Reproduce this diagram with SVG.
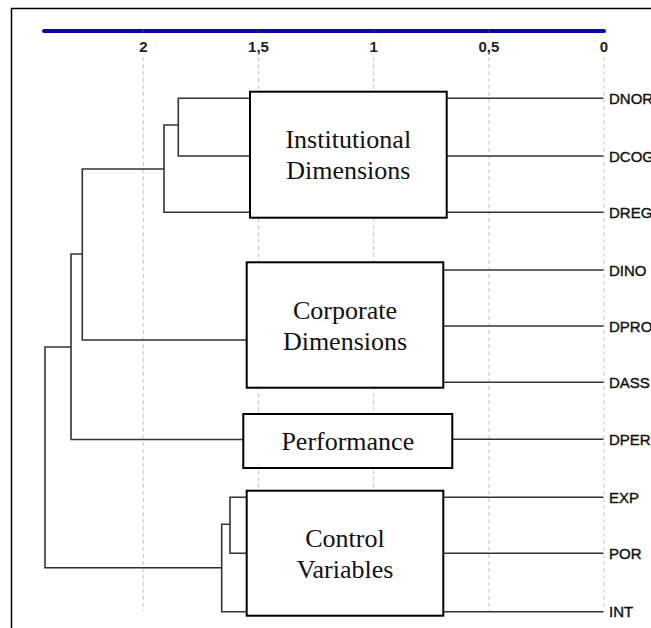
<svg xmlns="http://www.w3.org/2000/svg" width="651" height="628" viewBox="0 0 651 628">
<style>
.grid{stroke:#c8c8c8;stroke-width:1;stroke-dasharray:4,3;fill:none}
.tick{font-family:"Liberation Sans",Arial,sans-serif;font-size:15px;font-weight:bold;fill:#222;text-anchor:middle}
.leaf{font-family:"Liberation Sans",Arial,sans-serif;font-size:15px;fill:#111;stroke:#111;stroke-width:0.4}
.edge{stroke:#333;stroke-width:1.6;fill:none}
.box{fill:#fff;stroke:#000;stroke-width:2}
.lbl{font-family:"Liberation Serif","Times New Roman",serif;font-size:26px;fill:#111;text-anchor:middle}
</style>
<rect x="0" y="0" width="651" height="628" fill="#fff"/>
<rect x="11.5" y="8.5" width="700" height="700" fill="none" stroke="#000" stroke-width="1.5"/>
<g id="axis">
<line x1="44" y1="31" x2="604" y2="31" stroke="#0808b0" stroke-width="4" stroke-linecap="round"/>
<g stroke="#334" stroke-width="1.5">
<line x1="143.3" y1="29" x2="143.3" y2="33"/>
<line x1="258.5" y1="29" x2="258.5" y2="33"/>
<line x1="373.7" y1="29" x2="373.7" y2="33"/>
<line x1="488.9" y1="29" x2="488.9" y2="33"/>
</g>
<text class="tick" x="143.3" y="52">2</text>
<text class="tick" x="258.5" y="52">1,5</text>
<text class="tick" x="373.7" y="52">1</text>
<text class="tick" x="488.9" y="52">0,5</text>
<text class="tick" x="604" y="52">0</text>
<g class="grid">
<line x1="143.3" y1="57" x2="143.3" y2="611"/>
<line x1="258.5" y1="57" x2="258.5" y2="611"/>
<line x1="373.7" y1="57" x2="373.7" y2="611"/>
<line x1="488.9" y1="57" x2="488.9" y2="611"/>
<line x1="604" y1="57" x2="604" y2="611"/>
</g>
</g>
<g id="connectors" class="edge">
<path d="M446.7,98.3H603.5M446.7,156H603.5M446.7,212.3H603.5"/>
<path d="M443.3,270H603.5M443.3,326H603.5M443.3,382.3H603.5"/>
<path d="M452.3,439.3H603.5"/>
<path d="M443.3,497.3H603.5M443.3,553.3H603.5M443.3,611.7H603.5"/>
<path d="M250,98.3H178.3V156H250"/>
<path d="M178.3,125H164V212.3H250"/>
<path d="M164,169H82.3V340H246.7"/>
<path d="M82.3,254H71V439.5H243.3"/>
<path d="M71,347H45V567.7H221.7"/>
<path d="M246.7,497.3H230V553.3H246.7"/>
<path d="M230,524.3H221.7V611.7H246.7"/>
</g>
<g id="leaves">
<text class="leaf" x="609" y="103.8">DNOR</text>
<text class="leaf" x="609" y="161.5">DCOG</text>
<text class="leaf" x="609" y="217.8">DREG</text>
<text class="leaf" x="609" y="275.5">DINO</text>
<text class="leaf" x="609" y="331.5">DPRO</text>
<text class="leaf" x="609" y="387.8">DASS</text>
<text class="leaf" x="609" y="444.8">DPER</text>
<text class="leaf" x="609" y="502.8">EXP</text>
<text class="leaf" x="609" y="558.8">POR</text>
<text class="leaf" x="609" y="617.2">INT</text>
</g>
<g id="institutional">
<rect class="box" x="250" y="91.7" width="196.7" height="126"/>
<text class="lbl" x="348.3" y="147.5">Institutional</text>
<text class="lbl" x="348.3" y="178.5">Dimensions</text>
</g>
<g id="corporate">
<rect class="box" x="246.7" y="262.3" width="196.6" height="125.4"/>
<text class="lbl" x="345" y="318.5">Corporate</text>
<text class="lbl" x="345" y="349.5">Dimensions</text>
</g>
<g id="performance">
<rect class="box" x="243.3" y="414" width="209" height="54"/>
<text class="lbl" x="347.8" y="449.5">Performance</text>
</g>
<g id="control">
<rect class="box" x="246.7" y="490.7" width="196.6" height="125"/>
<text class="lbl" x="345" y="547">Control</text>
<text class="lbl" x="345" y="578">Variables</text>
</g>
</svg>
